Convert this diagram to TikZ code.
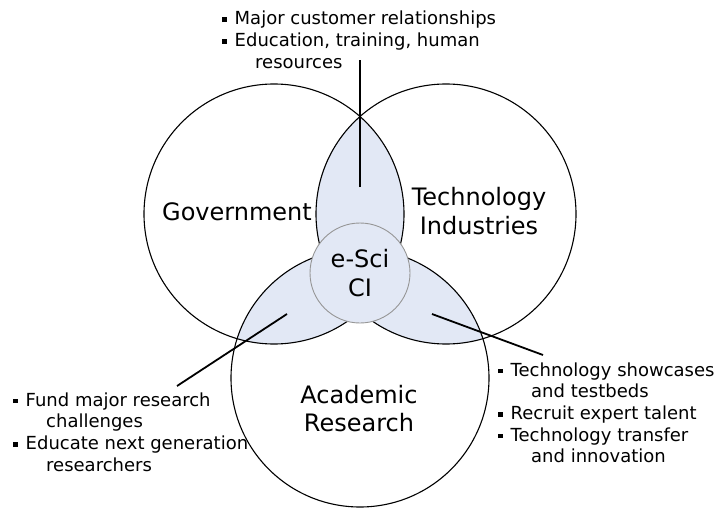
\documentclass[tikz,border=0pt]{standalone}
\usepackage{fontspec}
\setmainfont{DejaVu Sans}
\usetikzlibrary{positioning}

\definecolor{lensblue}{RGB}{226,232,245}
\definecolor{coregray}{RGB}{150,150,150}

% square bullet and hanging indent for the lists
\newcommand{\bul}{\makebox[12.5pt][l]{\rule[2.9pt]{4.6pt}{4.6pt}}}
\newcommand{\cont}{\hspace*{33pt}}

\begin{document}
\begin{tikzpicture}[x=1pt, y=-1pt,
    sector/.style={circle, draw, line width=1.1pt, inner sep=0pt},
    bigtext/.style={font=\fontsize{24}{28.5}\selectfont, align=center, inner sep=0pt},
    listtext/.style={font=\fontsize{18}{21.7}\selectfont, align=left, inner sep=0pt, anchor=base west},
    leader/.style={line width=1.8pt}]
  \useasboundingbox (0,0) rectangle (717,508);

  \coordinate (govC) at (274,214);
  \coordinate (techC) at (446,214);
  \coordinate (acadC) at (360,378);

  % shaded overlaps
  \begin{scope}
    \clip (govC) circle[radius=130pt];
    \fill[lensblue] (techC) circle[radius=130pt];
    \fill[lensblue] (acadC) circle[radius=129pt];
  \end{scope}
  \begin{scope}
    \clip (techC) circle[radius=130pt];
    \fill[lensblue] (acadC) circle[radius=129pt];
  \end{scope}

  \node[sector, minimum size=260pt] (gov) at (govC) {};
  \node[sector, minimum size=260pt] (tech) at (techC) {};
  \node[sector, minimum size=258pt] (acad) at (acadC) {};

  \node[circle, draw=coregray, line width=0.9pt, fill=lensblue, minimum size=100pt,
        inner sep=0pt, bigtext] (core) at (360,273) {e-Sci\\CI};

  \node[bigtext, anchor=base] (govtext) at (237,220) {Government};
  \node[bigtext] (techtext) at (479,211) {Technology\\Industries};
  \node[bigtext] (acadtext) at (359,408.5) {Academic\\Research};

  % callout lists (base = last line)
  \node[listtext] (toplist) at (222,68.4)
    {\bul Major customer relationships\\\bul Education, training, human\\\cont resources};
  \node[listtext] (leftlist) at (13,471.1)
    {\bul Fund major research\\\cont challenges\\\bul Educate next generation\\\cont researchers};
  \node[listtext] (rightlist) at (498,462.8)
    {\bul Technology showcases\\\cont and testbeds\\\bul Recruit expert talent\\\bul Technology transfer\\\cont and innovation};

  % leader lines
  \coordinate (topin) at (360,187);
  \coordinate (topout) at (360,60);
  \coordinate (leftin) at (287,314);
  \coordinate (leftout) at (177,386);
  \coordinate (rightin) at (432,314);
  \coordinate (rightout) at (543,355);
  \draw[leader] (topin) -- (topout);
  \draw[leader] (leftin) -- (leftout);
  \draw[leader] (rightin) -- (rightout);
\end{tikzpicture}
\end{document}
